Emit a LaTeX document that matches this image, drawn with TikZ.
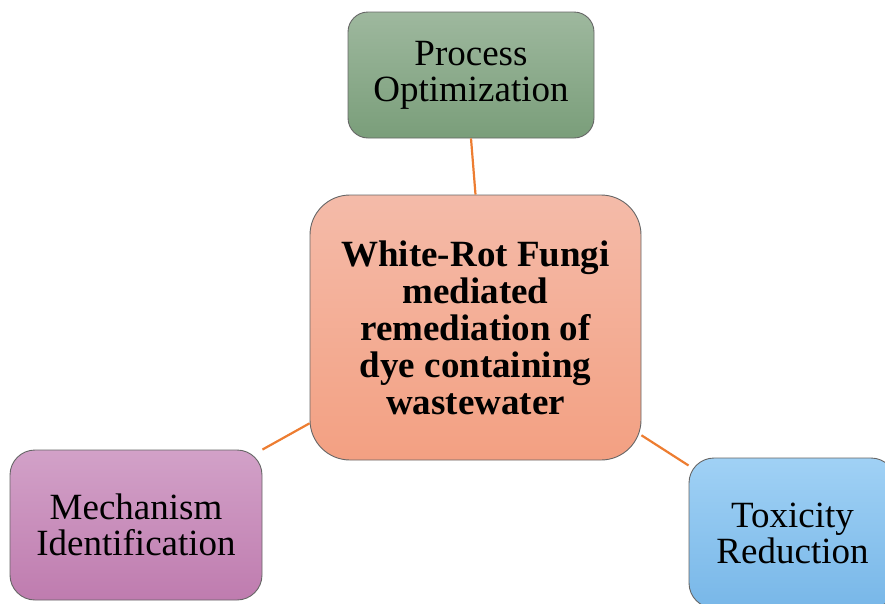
\documentclass[tikz,border=0pt]{standalone}
\usepackage{fontspec}
\setmainfont{Liberation Serif}
\begin{document}
\begin{tikzpicture}[x=1pt,y=-1pt,
  topic/.style={draw=black!60, line width=0.9pt, align=center, inner sep=0pt,
    font=\fontsize{37}{36}\selectfont},
  link/.style={draw=linkorange, line width=2.2pt}]
\definecolor{linkorange}{HTML}{ED7D31}
\useasboundingbox (0,0) rectangle (885,603);
\clip (0,0) rectangle (885,603);

% central theme
\node[topic, rounded corners=40pt, minimum width=331pt, minimum height=265pt,
      top color={rgb,255:red,244;green,187;blue,169},
      bottom color={rgb,255:red,243;green,160;blue,130},
      font=\fontsize{37}{37}\selectfont\bfseries]
  (main) at (475.5,327.5) {White-Rot Fungi\\mediated\\remediation of\\dye containing\\wastewater};

% surrounding topics
\node[topic, rounded corners=20pt, minimum width=246pt, minimum height=126pt,
      top color={rgb,255:red,158;green,184;blue,158},
      bottom color={rgb,255:red,122;green,158;blue,122}]
  (opt) at (471,75) {Process\\Optimization};

\node[topic, rounded corners=25pt, minimum width=252pt, minimum height=150pt,
      top color={rgb,255:red,210;green,161;blue,200},
      bottom color={rgb,255:red,191;green,124;blue,175}]
  (mech) at (136,525) {Mechanism\\Identification};

\node[topic, rounded corners=25pt, minimum width=207pt, minimum height=150pt,
      top color={rgb,255:red,160;green,209;blue,245},
      bottom color={rgb,255:red,120;green,183;blue,232}]
  (tox) at (792.5,533) {Toxicity\\Reduction};

% connectors
\draw[link] (opt.south) -- (main.north);
\draw[link] (mech.north east) -- (main.210);
\draw[link] (main.327) -- (tox.147);
\end{tikzpicture}
\end{document}
